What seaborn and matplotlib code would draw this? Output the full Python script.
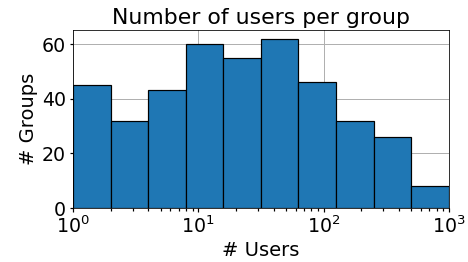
import numpy as np
import seaborn as sns
import matplotlib.pyplot as plt
from matplotlib.ticker import LogLocator

bin_edges = np.logspace(0, 3, 11)
group_counts = [45, 32, 43, 60, 55, 62, 46, 32, 26, 8]

centers = np.sqrt(bin_edges[:-1] * bin_edges[1:])

plt.rcParams['font.family'] = ['DejaVu Sans']
fig, ax = plt.subplots(figsize=(6.5, 3.64), dpi=72)
sns.histplot(x=centers, weights=group_counts, bins=10, binrange=(0, 3),
             log_scale=True, color='#1f77b4', alpha=1, edgecolor='black',
             linewidth=1.2, ax=ax)
ax.set_xlim(1, 1000)
ax.xaxis.set_minor_locator(LogLocator(base=10, subs=np.arange(2, 10), numticks=20))
ax.grid(True, which='major', color='#b0b0b0', linewidth=1)
ax.set_axisbelow(True)
ax.set_title('Number of users per group', fontsize=22)
ax.set_xlabel('# Users', fontsize=19.5)
ax.set_ylabel('# Groups', fontsize=19.5)
ax.tick_params(labelsize=19)
ax.tick_params(which='major', length=3.5, width=1.2)
ax.tick_params(which='minor', length=3, width=1.2, color='black')
fig.subplots_adjust(left=0.156, right=0.959, top=0.885, bottom=0.206)
fig.savefig('out.png')
